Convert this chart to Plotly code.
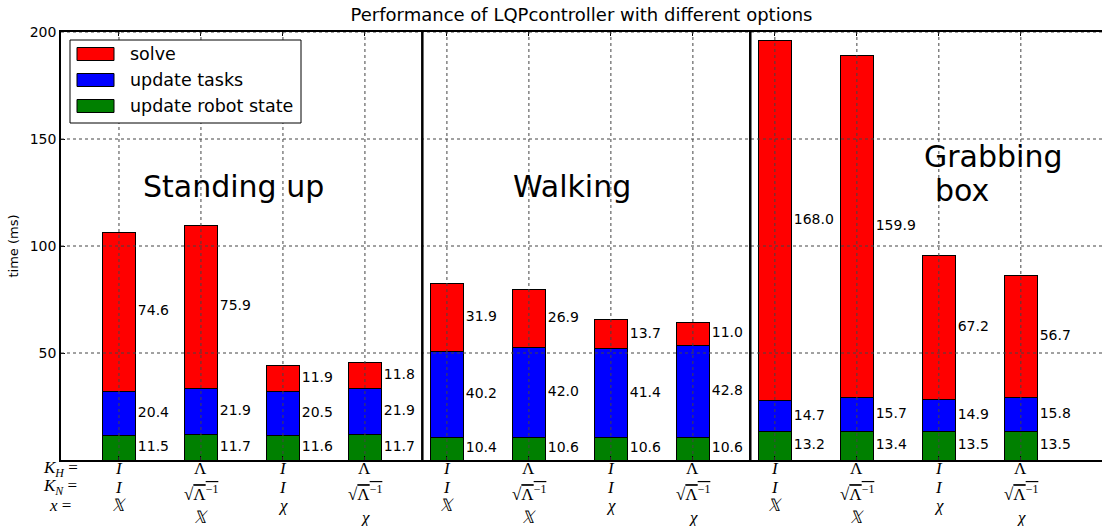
import plotly.graph_objects as go

# Timing breakdown (ms) for each controller configuration
config_idx = list(range(12))
robot_state = [11.5, 11.7, 11.6, 11.7, 10.4, 10.6, 10.6, 10.6, 13.2, 13.4, 13.5, 13.5]
update_tasks = [20.4, 21.9, 20.5, 21.9, 40.2, 42.0, 41.4, 42.8, 14.7, 15.7, 14.9, 15.8]
solve = [74.6, 75.9, 11.9, 11.8, 31.9, 26.9, 13.7, 11.0, 168.0, 159.9, 67.2, 56.7]

# Option labels under each bar
kh_labels = ["I", "Λ", "I", "Λ"] * 3
kn_labels = ["I", "sqrt", "I", "sqrt"] * 3
x_labels = ["𝕏", "𝕏", "χ", "χ"] * 3

# Scenario group captions and separators
group_names = ["Standing up", "Walking"]
group_pos = [1.40, 5.52]
separators = [3.7, 7.7]
y_grid = [50, 100, 150, 200]

BAR_W = 0.4
W, H = 1102, 526
PLOT_L, PLOT_R, PLOT_TOP, PLOT_BOT = 61, 1102, 32, 460

fig = go.Figure()

series = [
    ("update robot state", robot_state, "#008000"),
    ("update tasks", update_tasks, "#0000ff"),
    ("solve", solve, "#ff0000"),
]
for name, vals, col in series:
    fig.add_trace(go.Bar(
        x=config_idx, y=vals, name=name, width=BAR_W, showlegend=False,
        marker=dict(color=col, line=dict(color="black", width=1)),
    ))

# value labels next to each segment
base = [0.0] * len(config_idx)
for name, vals, col in series:
    mids = [b + v / 2 for b, v in zip(base, vals)]
    fig.add_trace(go.Scatter(
        x=[i + BAR_W / 2 + 0.03 for i in config_idx], y=mids,
        mode="text", text=[f"{v:.1f}" for v in vals],
        textposition="middle right",
        textfont=dict(family="DejaVu Sans", size=14, color="black"),
        showlegend=False, hoverinfo="skip",
    ))
    base = [b + v for b, v in zip(base, vals)]


def px(pix):
    return (pix - PLOT_L) / (PLOT_R - PLOT_L)


def py(pix):
    return (PLOT_BOT - pix) / (PLOT_BOT - PLOT_TOP)


shapes = []
for i in config_idx:
    shapes.append(dict(type="line", xref="x", yref="y", x0=i, x1=i, y0=0, y1=200,
                       line=dict(color="#444", width=1, dash="dot"), layer="above"))
for yv in y_grid:
    shapes.append(dict(type="line", xref="paper", yref="y", x0=0, x1=1, y0=yv, y1=yv,
                       line=dict(color="#444", width=1, dash="dot"), layer="above"))
for s in separators:
    shapes.append(dict(type="line", xref="x", yref="y", x0=s, x1=s, y0=0, y1=200,
                       line=dict(color="black", width=2.5), layer="above"))

annotations = []
big = dict(family="DejaVu Sans", size=30, color="black")
for name, xp in zip(group_names, group_pos):
    annotations.append(dict(x=xp, y=128, xref="x", yref="y", text=name, showarrow=False,
                            xanchor="center", yanchor="middle", font=big))
annotations.append(dict(x=9.80, y=142, xref="x", yref="y", text="Grabbing", showarrow=False,
                        xanchor="left", yanchor="middle", font=big))
annotations.append(dict(x=9.93, y=126, xref="x", yref="y", text="box", showarrow=False,
                        xanchor="left", yanchor="middle", font=big))

# legend box drawn by hand (wide swatches)
shapes.append(dict(type="rect", xref="paper", yref="paper",
                   x0=px(70), x1=px(301), y0=py(123), y1=py(40),
                   fillcolor="white", line=dict(color="black", width=1), layer="above"))
for k, (name, vals, col) in enumerate(reversed(series)):
    cy = 54 + 26 * k
    shapes.append(dict(type="rect", xref="paper", yref="paper",
                       x0=px(77), x1=px(114), y0=py(cy + 6.5), y1=py(cy - 6.5),
                       fillcolor=col, line=dict(color="black", width=1), layer="above"))
    annotations.append(dict(x=px(128), y=py(cy), xref="paper", yref="paper", text=name,
                            showarrow=False, xanchor="left", yanchor="middle",
                            font=dict(family="DejaVu Sans", size=17.5, color="black")))

mfont = dict(family="Liberation Serif", size=17, color="black")
sqrt_txt = "√<span style='text-decoration:overline'>Λ<sup>−1</sup></span>"


def label(x, pix, text, xref="x"):
    annotations.append(dict(x=x, y=py(pix), xref=xref, yref="paper", showarrow=False,
                            xanchor="center", yanchor="middle", text=text, font=mfont))


for i, kh, kn, xl in zip(config_idx, kh_labels, kn_labels, x_labels):
    label(i, 469, f"<i>{kh}</i>" if kh == "I" else kh)
    if kn == "sqrt":
        label(i, 493, sqrt_txt)
        label(i, 517, f"<i>{xl}</i>")
    else:
        label(i, 487, f"<i>{kn}</i>")
        label(i, 505, f"<i>{xl}</i>")

for txt, pix, cx in [("<i>K<sub>H</sub></i> =", 469, 60), ("<i>K<sub>N</sub></i> =", 487, 60),
                     ("<i>x</i> =", 505, 60)]:
    label(px(cx), pix, txt, xref="paper")

fig.update_layout(
    width=W, height=H,
    margin=dict(l=PLOT_L, r=W - PLOT_R, t=PLOT_TOP, b=H - PLOT_BOT),
    paper_bgcolor="white", plot_bgcolor="white",
    barmode="stack", showlegend=False,
    title=dict(text="Performance of LQPcontroller with different options",
               x=0.5, xref="paper", y=1 - 15 / H, yanchor="middle",
               font=dict(family="DejaVu Sans", size=18, color="black")),
    font=dict(family="DejaVu Sans", color="black"),
    xaxis=dict(range=[-0.707, 11.99], showticklabels=False, showgrid=False, zeroline=False,
               showline=True, linecolor="black", linewidth=1.5, mirror="ticks",
               ticks="inside", ticklen=4, tickcolor="black", tickvals=config_idx),
    yaxis=dict(range=[0, 200], tickvals=y_grid, showgrid=False, zeroline=False,
               showline=True, linecolor="black", linewidth=1.5,
               ticks="inside", ticklen=4, tickcolor="black",
               tickfont=dict(family="DejaVu Sans", size=14),
               title=dict(text="time (ms)", font=dict(family="DejaVu Sans", size=13), standoff=8)),
    shapes=shapes, annotations=annotations,
)

fig.write_html("out.html")
